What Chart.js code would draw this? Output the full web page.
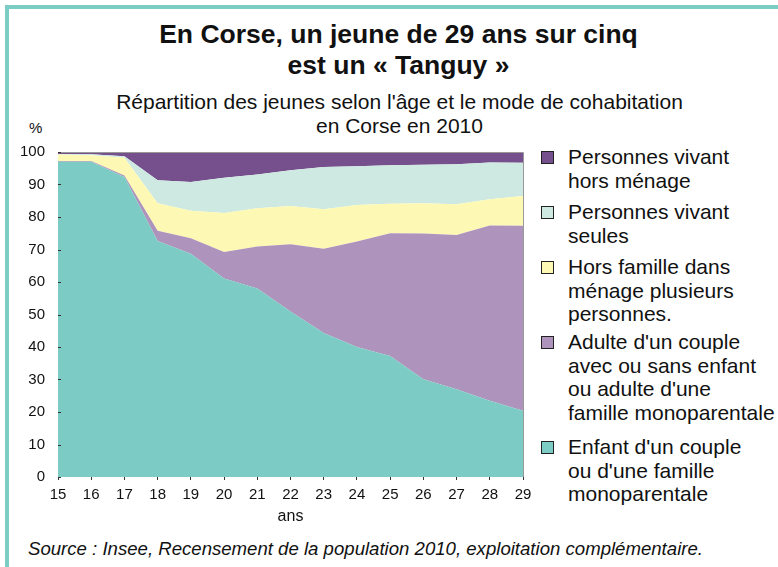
<!DOCTYPE html>
<html>
<head>
<meta charset="utf-8">
<script src="https://cdn.jsdelivr.net/npm/chart.js@4.4.1/dist/chart.umd.min.js"></script>
<style>
  html, body { margin:0; padding:0; background:#fff; }
  body { width:778px; height:567px; position:relative; overflow:hidden; font-family:"Liberation Sans", Arial, sans-serif; color:#111; }
  .frame-top { position:absolute; left:5px; top:5px; width:773px; height:4px; background:#7ccdc4; }
  .frame-left { position:absolute; left:5px; top:5px; width:4px; height:562px; background:#7ccdc4; }
  .title { position:absolute; left:0; width:797px; text-align:center; font-weight:bold; font-size:26.5px; line-height:31px; top:19px; }
  .sub { position:absolute; left:0; width:799px; text-align:center; font-size:21px; line-height:24px; top:90px; }
  .pct { position:absolute; left:29px; top:119px; font-size:15px; }
  .source { position:absolute; left:28px; top:538px; font-size:18.6px; line-height:22px; font-style:italic; }
  #wrap { position:absolute; left:0; top:130px; width:540px; height:400px; }
  .leg { position:absolute; left:541px; font-size:21px; line-height:23.7px; }
  .leg .sw { position:absolute; left:0; width:11px; height:11px; border:1px solid #222; top:6px; }
  .leg .tx { position:absolute; left:27px; white-space:nowrap; }
</style>
</head>
<body>
<div class="frame-top"></div>
<div class="frame-left"></div>
<div class="title">En Corse, un jeune de 29 ans sur cinq<br>est un « Tanguy »</div>
<div class="sub">Répartition des jeunes selon l'âge et le mode de cohabitation<br>en Corse en 2010</div>
<div class="pct">%</div>
<div id="wrap"><canvas id="c" width="540" height="400"></canvas></div>
<div id="legend"></div>
<div class="source">Source : Insee, Recensement de la population 2010, exploitation complémentaire.</div>
<script>
// Data (ages, then series in % — stacked to 100)
const ages = ["15","16","17","18","19","20","21","22","23","24","25","26","27","28","29"];
const enfant     = [97.0, 97.0, 92.3, 72.6, 68.7, 61.1, 58.0, 50.9, 44.3, 40.0, 37.2, 30.1, 27.0, 23.5, 20.4];
const adulte     = [0.2, 0.2, 0.5, 3.2, 4.8, 8.1, 12.9, 20.7, 25.9, 32.5, 37.8, 44.8, 47.5, 53.9, 56.9];
const horsFamille= [2.0, 1.8, 5.4, 8.4, 8.4, 12.0, 11.8, 11.8, 12.2, 11.2, 9.1, 9.3, 9.4, 8.1, 9.2];
const seules     = [0.2, 0.3, 0.5, 7.1, 8.9, 10.9, 10.4, 11.0, 13.0, 11.9, 11.8, 11.9, 12.3, 11.3, 10.2];
const horsMenage = [0.6, 0.7, 1.3, 8.7, 9.2, 7.9, 6.9, 5.6, 4.6, 4.4, 4.1, 3.9, 3.8, 3.2, 3.3];
const yTicks = [0,10,20,30,40,50,60,70,80,90,100];

const labelsLeg = [
  ["Personnes vivant","hors ménage"],
  ["Personnes vivant","seules"],
  ["Hors famille dans","ménage plusieurs","personnes."],
  ["Adulte d'un couple","avec ou sans enfant","ou adulte d'une","famille monoparentale"],
  ["Enfant d'un couple","ou d'une famille","monoparentale"]
];
const colorsLeg = ["#76508c","#cee9e2","#fdf9b4","#ae94bc","#7ccbc4"];
const legTops = [145, 200, 255, 330, 435];

const leg = document.getElementById('legend');
labelsLeg.forEach((lines, i) => {
  const d = document.createElement('div');
  d.className = 'leg';
  d.style.top = legTops[i] + 'px';
  d.innerHTML = '<div class="sw" style="background:' + colorsLeg[i] + '"></div><div class="tx">' + lines.join('<br>') + '</div>';
  leg.appendChild(d);
});

const mk = (label, data, color, fill) => ({
  label, data, backgroundColor: color, borderColor: color, borderWidth: 0,
  pointRadius: 0, fill, tension: 0
});

const decor = {
  id: 'decor',
  afterDatasetsDraw(chart) {
    const {ctx, chartArea: a, scales: {y}} = chart;
    ctx.save();
    ctx.strokeStyle = '#999';
    ctx.lineWidth = 1;
    ctx.beginPath();
    ctx.moveTo(a.left, a.top + 0.5); ctx.lineTo(a.right + 0.5, a.top + 0.5); ctx.lineTo(a.right + 0.5, a.bottom);
    ctx.stroke();
    ctx.strokeStyle = '#333';
    ctx.beginPath();
    yTicks.forEach(v => {
      const py = Math.round(y.getPixelForValue(v)) + 0.5;
      ctx.moveTo(a.left, py); ctx.lineTo(a.left + 3, py);
    });
    ctx.stroke();
    ctx.restore();
  }
};

new Chart(document.getElementById('c'), {
  type: 'line',
  data: {
    labels: ages,
    datasets: [
      mk("Enfant d'un couple ou d'une famille monoparentale", enfant, colorsLeg[4], 'origin'),
      mk("Adulte d'un couple avec ou sans enfant ou adulte d'une famille monoparentale", adulte, colorsLeg[3], '-1'),
      mk("Hors famille dans ménage plusieurs personnes.", horsFamille, colorsLeg[2], '-1'),
      mk("Personnes vivant seules", seules, colorsLeg[1], '-1'),
      mk("Personnes vivant hors ménage", horsMenage, colorsLeg[0], '-1')
    ]
  },
  options: {
    responsive: false,
    animation: false,
    layout: { padding: { left: 0, right: 17, top: 19, bottom: 0 } },
    plugins: { legend: { display: false }, tooltip: { enabled: false }, title: { display: false } },
    scales: {
      x: {
        offset: false,
        grid: { drawOnChartArea: false, color: 'transparent', tickColor: '#333', tickLength: 3 },
        border: { display: false },
        ticks: { color: '#111', font: { family: "Liberation Sans", size: 15 }, padding: 6, maxRotation: 0, autoSkip: false },
        title: { display: true, text: 'ans', color: '#111', font: { family: "Liberation Sans", size: 16 }, padding: { top: 0, bottom: 4 } },
        afterFit(s) { s.height = 53; }
      },
      y: {
        stacked: true,
        min: 0, max: 100,
        grid: { drawOnChartArea: false, drawTicks: false, color: 'transparent' },
        border: { display: false },
        ticks: { stepSize: 10, color: '#111', font: { family: "Liberation Sans", size: 15 }, padding: 13 },
        afterFit(s) { s.width = 58; }
      }
    }
  },
  plugins: [decor]
});
</script>
</body>
</html>
